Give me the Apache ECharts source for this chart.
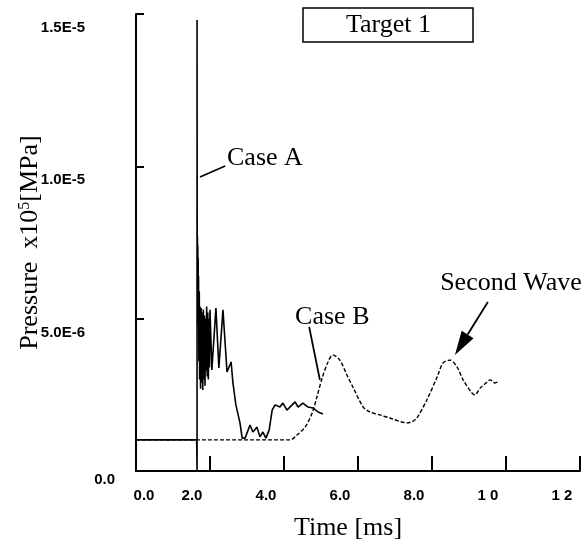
<!DOCTYPE html>
<html><head><meta charset="utf-8">
<script src="https://cdn.jsdelivr.net/npm/echarts@6/dist/echarts.min.js"></script>
<style>html,body{margin:0;padding:0;background:#fff}#c{width:587px;height:552px}</style>
</head><body><div id="c"></div>
<script>
// Pressure values are in units of 1e-6 (axis labels show the real magnitudes)
const caseATime = [0,1.64,1.65,1.65,1.655,1.66,1.665,1.67,1.675,1.68,1.685,1.69,1.70,1.71,1.72,1.73,1.745,1.76,1.775,1.79,1.805,1.82,1.835,1.85,1.865,1.88,1.895,1.91,1.925,1.94,1.955,1.97,1.985,2.00,2.05,2.16,2.24,2.35,2.46,2.57,2.62,2.70,2.81,2.87,2.95,3.08,3.16,3.27,3.35,3.43,3.51,3.60,3.68,3.76,3.89,3.97,4.08,4.22,4.30,4.38,4.51,4.65,4.78,4.92,5.05];
const caseAPressure = [1.02,1.02,0,14.8,6.0,7.7,5.2,7.4,5.5,7.0,4.8,6.4,3.6,5.9,3.0,5.4,2.7,5.35,2.9,5.2,2.66,5.3,3.0,5.1,2.8,5.0,3.3,5.4,3.1,5.2,3.0,5.0,3.4,5.29,3.32,5.35,3.38,5.29,3.25,3.58,2.89,2.17,1.58,1.08,1.08,1.51,1.28,1.44,1.12,1.28,1.08,1.35,2.00,2.17,2.10,2.23,2.00,2.17,2.27,2.10,2.23,2.10,2.07,1.94,1.87];
const caseBTime = [0,4.16,4.35,4.57,4.76,4.89,5.03,5.19,5.32,5.51,5.70,5.86,6.14,6.32,6.59,6.86,7.32,7.46,7.59,7.86,8.14,8.30,8.49,8.68,8.84,9.08,9.16,9.30,9.49,9.57,9.70,9.78];
const caseBPressure = [1.02,1.02,1.18,1.44,1.90,2.43,3.05,3.58,3.81,3.64,3.15,2.76,2.10,1.94,1.84,1.74,1.58,1.62,1.74,2.33,3.09,3.55,3.64,3.41,2.99,2.56,2.50,2.72,2.92,2.99,2.89,2.92];
const xTickLabels = ['0.0','2.0','4.0','6.0','8.0','1 0','1 2'];
const yTickLabels = ['0.0','5.0E-6','1.0E-5','1.5E-5'];

// annotation anchors (data coordinates)
const caseAText = [2.46, 10.28];
const caseALeader = [[2.41, 10.01], [1.73, 9.65]];
const caseBText = [4.30, 5.06];
const caseBLeader = [[4.68, 4.73], [4.97, 2.99]];
const waveText = [8.22, 6.17];
const waveArrow = [[9.51, 5.55], [8.62, 3.81]];

const serif = '"Liberation Serif", "Times New Roman", serif';
const tickFont = '"Liberation Sans Narrow", "Liberation Sans", Arial, sans-serif';
const TS = 15;

const chart = echarts.init(document.getElementById('c'), null, {renderer: 'canvas'});
chart.setOption({
  animation: false,
  backgroundColor: '#fff',
  title: {
    text: 'Target 1', left: 303, top: 8,
    padding: [4, 42, 4, 43], borderColor: '#000', borderWidth: 1.5,
    textStyle: {fontFamily: serif, fontSize: 26, fontWeight: 'normal', color: '#000', lineHeight: 26}
  },
  grid: {left: 136, right: 7, top: 14, bottom: 81, containLabel: false, outerBoundsMode: 'none'},
  xAxis: {
    type: 'value', min: 0, max: 12, interval: 2,
    name: 'Time [ms]', nameLocation: 'middle', nameGap: 44, nameMoveOverlap: false,
    nameTextStyle: {fontFamily: serif, fontSize: 26, color: '#000', padding: [0, 20, 0, 0]},
    axisLine: {onZero: false, lineStyle: {color: '#000', width: 2}},
    axisTick: {inside: true, length: 15, lineStyle: {color: '#000', width: 2}},
    splitLine: {show: false},
    axisLabel: {
      margin: 17, color: '#000', fontFamily: tickFont, fontWeight: 'bold', fontSize: TS,
      formatter: function (v) {
        const i = Math.round(v / 2);
        return i === 0 ? '{f|' + xTickLabels[i] + '}' : '{o|' + xTickLabels[i] + '}';
      },
      rich: {
        f: {padding: [0, 0, 0, 16], fontFamily: tickFont, fontWeight: 'bold', fontSize: TS, color: '#000'},
        o: {padding: [0, 36, 0, 0], fontFamily: tickFont, fontWeight: 'bold', fontSize: TS, color: '#000'}
      }
    }
  },
  yAxis: {
    type: 'value', min: 0, max: 15, interval: 5,
    name: '{a|Pressure  x10}{s|5}{a|[MPa]}', nameLocation: 'middle', nameGap: 93, nameRotate: 90,
    nameMoveOverlap: false,
    nameTextStyle: {
      fontFamily: serif, fontSize: 26, color: '#000',
      rich: {
        a: {fontFamily: serif, fontSize: 26, color: '#000'},
        s: {fontFamily: serif, fontSize: 16, color: '#000', verticalAlign: 'top'}
      }
    },
    axisLine: {onZero: false, lineStyle: {color: '#000', width: 2}},
    axisTick: {inside: true, length: 8, lineStyle: {color: '#000', width: 2}},
    splitLine: {show: false},
    axisLabel: {
      margin: 21, align: 'right', color: '#000', fontFamily: tickFont, fontWeight: 'bold', fontSize: TS,
      formatter: function (v) {
        const i = Math.round(v / 5);
        return i === 0 ? '{z|' + yTickLabels[i] + '}' : '{e|' + yTickLabels[i] + '}';
      },
      rich: {
        z: {padding: [18, 0, 0, 0], fontFamily: tickFont, fontWeight: 'bold', fontSize: TS, color: '#000'},
        e: {padding: [28, 30, 0, 0], fontFamily: tickFont, fontWeight: 'bold', fontSize: TS, color: '#000'}
      }
    }
  },
  series: [
    {
      name: 'Case A', type: 'line', showSymbol: false, smooth: false,
      lineStyle: {color: '#000', width: 1.6},
      data: caseATime.map((t, i) => [t, caseAPressure[i]])
    },
    {
      name: 'Case B', type: 'line', showSymbol: false, smooth: 0.3,
      lineStyle: {color: '#000', width: 1.4, type: [4, 2]},
      data: caseBTime.map((t, i) => [t, caseBPressure[i]])
    }
  ]
});

function px(p) { return chart.convertToPixel({gridIndex: 0}, p); }
function textEl(txt, at) {
  const p = px(at);
  return {type: 'text', x: p[0], y: p[1], style: {text: txt, fontFamily: serif, fontSize: 26, fill: '#000', align: 'left', verticalAlign: 'middle'}};
}
function lineEl(seg) {
  const a = px(seg[0]), b = px(seg[1]);
  return {type: 'line', shape: {x1: a[0], y1: a[1], x2: b[0], y2: b[1]}, style: {stroke: '#000', lineWidth: 1.8}};
}
const s = px(waveArrow[0]), tip = px(waveArrow[1]);
const dx = tip[0] - s[0], dy = tip[1] - s[1], L = Math.hypot(dx, dy);
const ux = dx / L, uy = dy / L, nx = -uy, ny = ux;
const headLen = 24, headHalf = 7;
const bx = tip[0] - ux * headLen, by = tip[1] - uy * headLen;

chart.setOption({
  graphic: [
    textEl('Case A', caseAText), lineEl(caseALeader),
    textEl('Case B', caseBText), lineEl(caseBLeader),
    textEl('Second Wave', waveText),
    {type: 'line', shape: {x1: s[0], y1: s[1], x2: bx, y2: by}, style: {stroke: '#000', lineWidth: 1.8}},
    {type: 'polygon', shape: {points: [[tip[0], tip[1]], [bx + nx * headHalf, by + ny * headHalf], [bx - nx * headHalf, by - ny * headHalf]]}, style: {fill: '#000'}}
  ]
});
</script></body></html>
